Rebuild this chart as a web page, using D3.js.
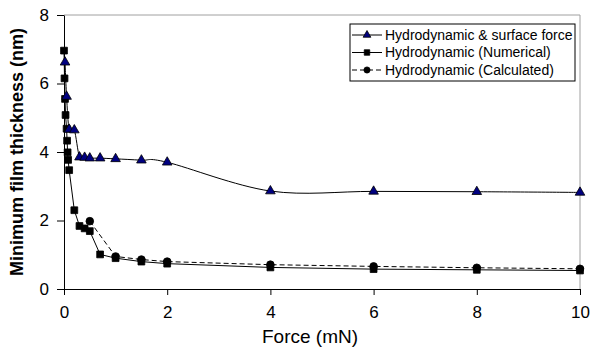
<!DOCTYPE html>
<html>
<head>
<meta charset="utf-8">
<script src="https://cdn.jsdelivr.net/npm/d3@7"></script>
<style>
    body { margin: 0; background: #fff; }
    svg { display: block; font-family: "Liberation Sans", Arial, sans-serif; }
</style>
</head>
<body>
<div id="chart"></div>
<script>
// data
const surfaceForceX = [0.02, 0.05, 0.1, 0.2, 0.3, 0.4, 0.5, 0.7, 1, 1.5, 2, 4, 6, 8, 10]
const surfaceForceY = [6.62, 5.62, 4.66, 4.64, 3.85, 3.84, 3.82, 3.82, 3.8, 3.76, 3.7, 2.86, 2.85, 2.84, 2.82]

const numericalX = [0, 0.01, 0.02, 0.03, 0.05, 0.06, 0.07, 0.08, 0.1, 0.2, 0.3, 0.4, 0.5, 0.7, 1, 1.5, 2, 4, 6, 8, 10]
const numericalY = [6.96, 6.15, 5.55, 5.08, 4.68, 4.33, 3.99, 3.77, 3.47, 2.3, 1.84, 1.77, 1.69, 1.01, 0.9, 0.8, 0.74, 0.63, 0.58, 0.56, 0.54]

const calculatedX = [0.5, 1, 1.5, 2, 4, 6, 8, 10]
const calculatedY = [1.98, 0.95, 0.86, 0.8, 0.71, 0.66, 0.62, 0.59]

const xTicks = [0, 2, 4, 6, 8, 10]
const yTicks = [0, 2, 4, 6, 8]

const seriesNames = ['Hydrodynamic & surface force', 'Hydrodynamic (Numerical)', 'Hydrodynamic (Calculated)']

const zip = (xs, ys) => xs.map((x, i) => ({ x, y: ys[i] }))

const width = 592, height = 356
const margins = { left: 64, top: 15, right: 12, bottom: 67 }

const svg = d3.select('#chart').append('svg')
    .attr('width', width)
    .attr('height', height)

const x = d3.scaleLinear().domain([0, 10]).range([margins.left, width - margins.right])
const y = d3.scaleLinear().domain([0, 8]).range([height - margins.bottom, margins.top])

// grey frame on top / right (excel plot area)
svg.append('path')
    .attr('d', `M${x(0)},${y(8)}H${x(10)}V${y(0)}`)
    .attr('fill', 'none')
    .attr('stroke', '#a0a0a0')
    .attr('stroke-width', 1)

const xAxis = svg.append('g')
    .attr('transform', `translate(0,${y(0)})`)
    .call(d3.axisBottom(x).tickValues(xTicks).tickSize(6).tickPadding(11).tickSizeOuter(0))
const yAxis = svg.append('g')
    .attr('transform', `translate(${x(0)},0)`)
    .call(d3.axisLeft(y).tickValues(yTicks).tickSize(7).tickPadding(8).tickSizeOuter(0))

;[xAxis, yAxis].forEach(ax => {
    ax.selectAll('text').attr('font-size', 17).attr('fill', '#000').attr('font-family', null)
    ax.selectAll('line, path').attr('stroke', '#000')
})
xAxis.selectAll('text').attr('dy', '0.71em')

svg.append('text')
    .attr('x', 310)
    .attr('y', 343)
    .attr('text-anchor', 'middle')
    .attr('font-size', 19)
    .text('Force (mN)')

svg.append('text')
    .attr('transform', `translate(23,${(y(0) + y(8)) / 2}) rotate(-90)`)
    .attr('text-anchor', 'middle')
    .attr('font-size', 18)
    .attr('font-weight', 'bold')
    .text('Minimum film thickness (nm)')

/**
 * markers
 */
const triangle = d3.symbol().type(d3.symbolTriangle).size(40)
const square = d3.symbol().type(d3.symbolSquare).size(46)
const circle = d3.symbol().type(d3.symbolCircle).size(46)

function drawSeries(data, { curve, dash, symbol, fill, stroke }) {
    const line = d3.line()
        .x(d => x(d.x))
        .y(d => y(d.y))
        .curve(curve)
    svg.append('path')
        .datum(data)
        .attr('d', line)
        .attr('fill', 'none')
        .attr('stroke', '#000')
        .attr('stroke-width', 1)
        .attr('stroke-dasharray', dash)
    svg.append('g').selectAll('path')
        .data(data)
        .join('path')
        .attr('transform', d => `translate(${x(d.x)},${y(d.y)})`)
        .attr('d', symbol)
        .attr('fill', fill)
        .attr('stroke', stroke)
        .attr('stroke-width', 0.8)
}

const styles = [
    { curve: d3.curveCardinal.tension(0), dash: null, symbol: triangle, fill: '#000080', stroke: '#000' },
    { curve: d3.curveLinear, dash: null, symbol: square, fill: '#000', stroke: '#000' },
    { curve: d3.curveLinear, dash: '5,3', symbol: circle, fill: '#000', stroke: '#000' }
]

drawSeries(zip(calculatedX, calculatedY), styles[2])
drawSeries(zip(numericalX, numericalY), styles[1])
drawSeries(zip(surfaceForceX, surfaceForceY), styles[0])

/**
 * legend
 */
const legend = svg.append('g').attr('transform', 'translate(350,24)')
legend.append('rect')
    .attr('width', 225)
    .attr('height', 57)
    .attr('fill', '#fff')
    .attr('stroke', '#000')
    .attr('stroke-width', 1)

seriesNames.forEach((name, i) => {
    const st = styles[i]
    const row = legend.append('g').attr('transform', `translate(0,${11 + i * 17.5})`)
    row.append('line')
        .attr('x1', 2).attr('x2', 32)
        .attr('stroke', '#000')
        .attr('stroke-dasharray', st.dash)
    row.append('path')
        .attr('transform', 'translate(17,0)')
        .attr('d', st.symbol.size(i === 0 ? 26 : 30))
        .attr('fill', st.fill)
        .attr('stroke', st.stroke)
        .attr('stroke-width', 0.8)
    row.append('text')
        .attr('x', 35)
        .attr('dy', '0.35em')
        .attr('font-size', 14)
        .text(name)
})
</script>
</body>
</html>
